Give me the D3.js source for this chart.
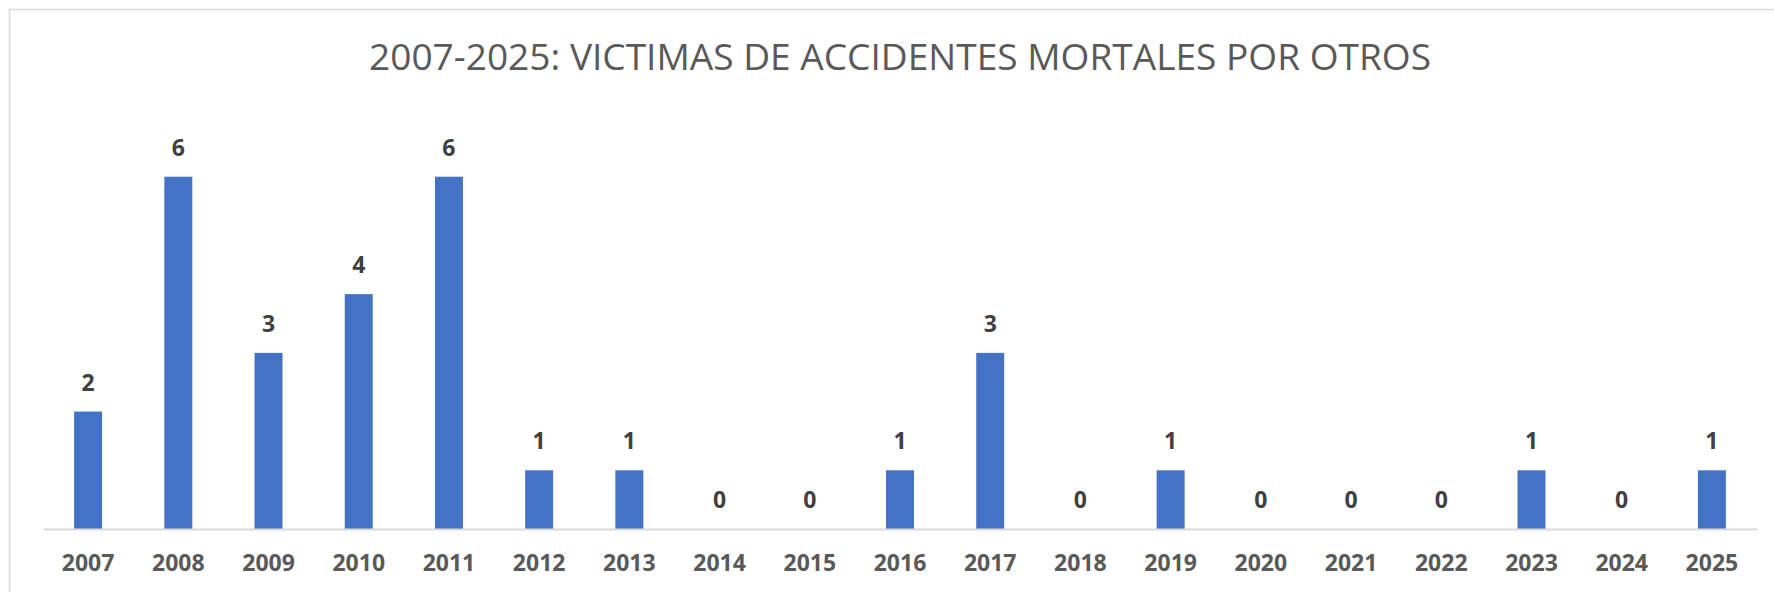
<!DOCTYPE html>
<html>
<head>
<meta charset="utf-8">
<script src="https://cdn.jsdelivr.net/npm/d3@7"></script>
<style>
  html, body { margin: 0; padding: 0; background: #ffffff; }
  svg { display: block; }
</style>
</head>
<body>
<svg id="chart" width="1774" height="592"></svg>
<script>
// Fatal-accident victims per year, category "otros"
const years = ["2007","2008","2009","2010","2011","2012","2013","2014","2015","2016",
               "2017","2018","2019","2020","2021","2022","2023","2024","2025"];
const victims = [2, 6, 3, 4, 6, 1, 1, 0, 0, 1, 3, 0, 1, 0, 0, 0, 1, 0, 1];
const titleText = "2007-2025: VICTIMAS DE ACCIDENTES MORTALES POR OTROS";
const yDomainMax = 7;

const svg = d3.select("#chart");
const W = 1774, H = 592;
const plot = { left: 43, right: 1757, bottom: 529, top: 118 };

// chart frame
svg.append("rect")
  .attr("x", 9.5).attr("y", 9.5)
  .attr("width", 1800).attr("height", 700)
  .attr("fill", "#ffffff")
  .attr("stroke", "#d9d9d9")
  .attr("stroke-width", 1.5);

// title
svg.append("text")
  .attr("x", 900).attr("y", 70)
  .attr("text-anchor", "middle")
  .attr("font-family", "'Open Sans', sans-serif")
  .attr("font-size", 37)
  .attr("fill", "#595959")
  .attr("textLength", 1062)
  .attr("lengthAdjust", "spacingAndGlyphs")
  .text(titleText);

const x = d3.scaleBand()
  .domain(years)
  .range([plot.left, plot.right])
  .paddingInner(0.69)
  .paddingOuter(0.345);

const y = d3.scaleLinear()
  .domain([0, yDomainMax])
  .range([plot.bottom, plot.top]);

const data = years.map((yr, i) => ({ year: yr, value: victims[i] }));

// bars
svg.append("g")
  .selectAll("rect")
  .data(data)
  .join("rect")
  .attr("x", d => x(d.year))
  .attr("y", d => y(d.value))
  .attr("width", x.bandwidth())
  .attr("height", d => y(0) - y(d.value))
  .attr("fill", "#4472c4");

// category axis
const xAxis = d3.axisBottom(x).tickSize(0).tickPadding(0);
const gx = svg.append("g")
  .attr("transform", `translate(0,${y(0)})`)
  .call(xAxis);
gx.select(".domain")
  .attr("stroke", "#d9d9d9")
  .attr("stroke-width", 2);
gx.selectAll(".tick text")
  .attr("y", 42)
  .attr("dy", null)
  .attr("font-family", "'Open Sans', sans-serif")
  .attr("font-weight", "bold")
  .attr("font-size", 23)
  .attr("fill", "#595959");

// value labels
svg.append("g")
  .selectAll("text")
  .data(data)
  .join("text")
  .attr("x", d => x(d.year) + x.bandwidth() / 2)
  .attr("y", d => y(d.value) - 21)
  .attr("text-anchor", "middle")
  .attr("font-family", "'Open Sans', sans-serif")
  .attr("font-weight", "bold")
  .attr("font-size", 23)
  .attr("fill", "#404040")
  .text(d => d.value);
</script>
</body>
</html>
